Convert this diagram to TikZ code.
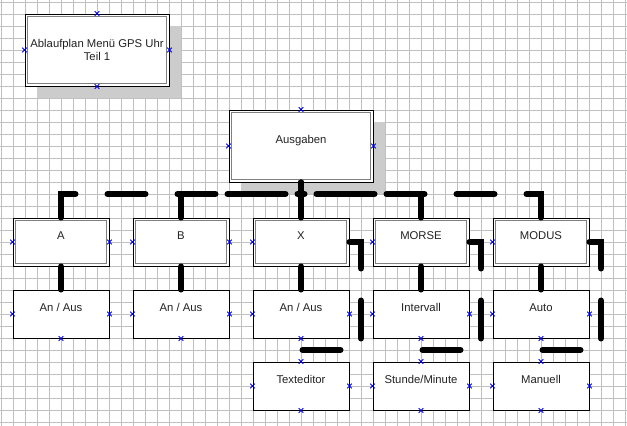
\documentclass[tikz,border=0pt]{standalone}
\usepackage{fontspec}
\setmainfont{Liberation Sans}
\usetikzlibrary{shadows}
\definecolor{gridc}{RGB}{192,192,192}
\definecolor{shadowc}{RGB}{204,204,204}
\definecolor{innerc}{RGB}{128,128,128}
\definecolor{txtc}{RGB}{34,34,34}
\definecolor{mkc}{RGB}{0,0,230}
\begin{document}
\begin{tikzpicture}[x=1pt,y=-1pt,
  boxbase/.style={draw=black, line width=1pt, fill=white, inner sep=0pt,
    minimum width=96pt, minimum height=48pt,
    font=\fontsize{11.3}{13.3}\selectfont, text=txtc},
  box/.style={boxbase, text height=0pt, text depth=6pt},
  framed/.style={path picture={\draw[innerc, line width=1.2pt]
    ([shift={(2.5pt,-2.5pt)}]path picture bounding box.north west) rectangle
    ([shift={(-2.5pt,2.5pt)}]path picture bounding box.south east);}},
  big/.style={minimum width=144pt, minimum height=72pt},
  shadowed/.style={drop shadow={shadow xshift=12pt, shadow yshift=-12pt, fill=shadowc, opacity=1}},
  conn/.style={line width=6pt, line cap=round, line join=miter, dash pattern=on 38pt off 32pt},
  gridline/.style={gridc, line width=1pt},
  xm/.pic={\draw[mkc, line width=0.8pt] (-2.3pt,-2.3pt)--(2.3pt,2.3pt) (-2.3pt,2.3pt)--(2.3pt,-2.3pt);}
]
\useasboundingbox (0,0) rectangle (627,426);
\fill[white] (0,0) rectangle (627,426);
% grid
\foreach \i in {0,...,52} \draw[gridline] (1+12*\i,0) -- (1+12*\i,426);
\foreach \j in {0,...,35} \draw[gridline] (0,2+12*\j) -- (627,2+12*\j);

% title
\node[boxbase, framed, big, shadowed, align=center] (T) at (97,50) {Ablaufplan Menü GPS Uhr\\Teil 1};
% root
\node[box, framed, big, shadowed] (Aus) at (301,146) {Ausgaben};
% top row
\node[box, framed] (A)  at (61,242)  {A};
\node[box, framed] (B)  at (181,242) {B};
\node[box, framed] (X)  at (301,242) {X};
\node[box, framed] (MO) at (421,242) {MORSE};
\node[box, framed] (MD) at (541,242) {MODUS};
% middle row
\node[box] (A1)  at (61,314)  {An / Aus};
\node[box] (B1)  at (181,314) {An / Aus};
\node[box] (X1)  at (301,314) {An / Aus};
\node[box] (MO1) at (421,314) {Intervall};
\node[box] (MD1) at (541,314) {Auto};
% bottom row
\node[box] (X2)  at (301,386) {Texteditor};
\node[box] (MO2) at (421,386) {Stunde/Minute};
\node[box] (MD2) at (541,386) {Manuell};

% connectors
\coordinate (bus) at (301,194);
\foreach \n in {A,B,X,MO,MD} \draw[conn] (\n.north) |- (bus) -- (Aus.south);
\foreach \n in {A,B,X,MO,MD} \draw[conn] (\n.south) -- (\n1.north);
\coordinate (cx) at (361,350);
\coordinate (cm) at (481,350);
\coordinate (cd) at (601,350);
\draw[conn] (X.east) -| (cx) -| (X2.north);
\draw[conn] (MO.east) -| (cm) -| (MO2.north);
\draw[conn] (MD.east) -| (cd) -| (MD2.north);

% connection point markers
\foreach \p in {T.north,T.south,T.west,T.east,Aus.north,Aus.west,Aus.east,
  A.west,A.east,B.west,B.east,X.west,MO.west,MD.west,
  A1.west,A1.east,A1.south,B1.west,B1.east,B1.south,X1.west,X1.east,X1.south,
  MO1.west,MO1.east,MO1.south,MD1.west,MD1.east,MD1.south,
  X2.north,X2.west,X2.east,X2.south,MO2.north,MO2.west,MO2.east,MO2.south,
  MD2.north,MD2.west,MD2.east,MD2.south}
  \pic at (\p) {xm};
\end{tikzpicture}
\end{document}
